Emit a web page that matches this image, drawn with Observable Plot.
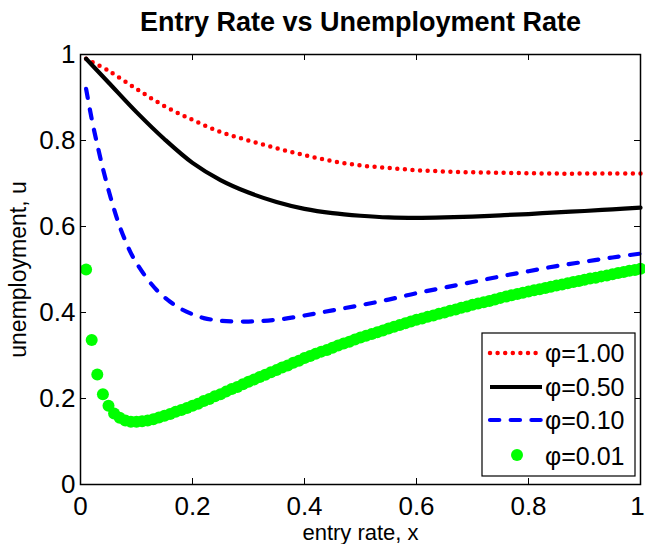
<!DOCTYPE html>
<html><head><meta charset="utf-8">
<script src="https://cdn.jsdelivr.net/npm/d3@7"></script>
<script src="https://cdn.jsdelivr.net/npm/@observablehq/plot@0.6"></script>
<style>
body{margin:0;background:#fff}
#chart{width:645px;height:544px}
</style>
</head><body><div id="chart"></div>
<script>
// ---- text ----
const titleText = "Entry Rate vs Unemployment Rate";
const xLabelText = "entry rate, x";
const yLabelText = "unemployment, u";
const seriesNames = ["φ=1.00", "φ=0.50", "φ=0.10", "φ=0.01"];
const xTicks = [0, 0.2, 0.4, 0.6, 0.8, 1];
const yTicks = [0, 0.2, 0.4, 0.6, 0.8, 1];

// ---- phi = 1.00 (red dotted) ----
const redX = [0.01,0.05,0.10,0.15,0.20,0.25,0.30,0.35,0.40,0.45,0.50,0.55,0.60,0.65,0.70,0.75,0.80,0.85,0.90,0.95,1.00];
const redU = [0.990,0.962,0.920,0.880,0.848,0.820,0.800,0.782,0.766,0.752,0.742,0.736,0.731,0.728,0.726,0.725,0.724,0.723,0.723,0.723,0.723];

// ---- phi = 0.50 (black solid) ----
const blackX = [0.01,0.05,0.10,0.15,0.20,0.25,0.30,0.35,0.40,0.45,0.50,0.55,0.60,0.65,0.70,0.75,0.80,0.85,0.90,0.95,1.00];
const blackU = [0.990,0.935,0.866,0.803,0.748,0.708,0.679,0.657,0.641,0.631,0.625,0.621,0.620,0.621,0.623,0.626,0.629,0.633,0.636,0.640,0.644];

// ---- phi = 0.10 (blue dashed) ----
const blueX = [0.01,0.02,0.03,0.04,0.05,0.06,0.07,0.08,0.09,0.10,0.12,0.14,0.16,0.18,0.20,0.22,0.25,0.30,0.35,0.40,0.45,0.50,0.55,0.60,0.65,0.70,0.75,0.80,0.85,0.90,0.95,1.00];
const blueU = [0.920,0.850,0.790,0.735,0.685,0.640,0.600,0.567,0.538,0.515,0.477,0.447,0.425,0.408,0.396,0.387,0.381,0.379,0.383,0.393,0.405,0.417,0.430,0.445,0.458,0.471,0.484,0.496,0.508,0.518,0.528,0.537];

// ---- phi = 0.01 (green markers) ----
const greenX = [0.01,0.02,0.03,0.04,0.05,0.06,0.07,0.08,0.09,0.10,
  0.11,0.12,0.13,0.14,0.15,0.16,0.17,0.18,0.19,0.20,
  0.21,0.22,0.23,0.24,0.25,0.26,0.27,0.28,0.29,0.30,
  0.31,0.32,0.33,0.34,0.35,0.36,0.37,0.38,0.39,0.40,
  0.41,0.42,0.43,0.44,0.45,0.46,0.47,0.48,0.49,0.50,
  0.51,0.52,0.53,0.54,0.55,0.56,0.57,0.58,0.59,0.60,
  0.61,0.62,0.63,0.64,0.65,0.66,0.67,0.68,0.69,0.70,
  0.71,0.72,0.73,0.74,0.75,0.76,0.77,0.78,0.79,0.80,
  0.81,0.82,0.83,0.84,0.85,0.86,0.87,0.88,0.89,0.90,
  0.91,0.92,0.93,0.94,0.95,0.96,0.97,0.98,0.99,1.00];
const greenU = [0.500,0.336,0.256,0.210,0.183,0.165,0.155,0.149,0.146,0.146,
  0.147,0.149,0.152,0.156,0.160,0.164,0.169,0.173,0.178,0.183,
  0.188,0.194,0.199,0.205,0.210,0.216,0.222,0.227,0.233,0.239,
  0.244,0.250,0.255,0.261,0.266,0.272,0.277,0.283,0.288,0.294,
  0.299,0.304,0.309,0.313,0.318,0.323,0.328,0.332,0.337,0.342,
  0.346,0.350,0.354,0.358,0.363,0.367,0.371,0.375,0.379,0.383,
  0.386,0.390,0.393,0.397,0.400,0.404,0.407,0.411,0.414,0.418,
  0.421,0.424,0.427,0.430,0.434,0.437,0.440,0.443,0.446,0.449,
  0.452,0.454,0.457,0.460,0.463,0.465,0.468,0.471,0.473,0.476,
  0.479,0.481,0.484,0.486,0.489,0.492,0.494,0.497,0.499,0.502];

const zip = (xs, us) => xs.map((x, i) => ({x, u: us[i]}));
const red = zip(redX, redU), black = zip(blackX, blackU), blue = zip(blueX, blueU), green = zip(greenX, greenU);

const W = 645, H = 544;
const mL = 80, mR = 5, mT = 54, mB = 60;
const fw = W - mL - mR, fh = H - mT - mB;
const tick = 6;
const fmt = d => `${d}`;
const FONT = "'Liberation Sans', Arial, Helvetica, sans-serif";
const xTicksInner = xTicks.slice(0, -1);
const xTickLast = xTicks.slice(-1);

const svg = Plot.plot({
  width: W, height: H,
  marginLeft: mL, marginRight: mR, marginTop: mT, marginBottom: mB,
  style: {fontFamily: FONT, fontSize: "26px", color: "#000", background: "#fff", overflow: "visible"},
  x: {domain: [0, 1], label: null},
  y: {domain: [0, 1], label: null},
  marks: [
    Plot.line(red, {x: "x", y: "u", curve: "catmull-rom", stroke: "#ff0000", strokeWidth: 4.5, strokeDasharray: "0 7.6", strokeLinecap: "round"}),
    Plot.line(black, {x: "x", y: "u", curve: "catmull-rom", stroke: "#000000", strokeWidth: 4.2}),
    Plot.line(blue, {x: "x", y: "u", curve: "catmull-rom", stroke: "#0000ff", strokeWidth: 4.2, strokeDasharray: "9.3 11.4", strokeLinecap: "round"}),
    Plot.dot(green, {x: "x", y: "u", r: 6, fill: "#00ff00", stroke: null}),
    // inward tick marks on all four sides
    Plot.ruleX(xTicks, {x: d => d, insetTop: fh - tick, stroke: "#000", strokeWidth: 1}),
    Plot.ruleX(xTicks, {x: d => d, insetBottom: fh - tick, stroke: "#000", strokeWidth: 1}),
    Plot.ruleY(yTicks, {y: d => d, insetRight: fw - tick, stroke: "#000", strokeWidth: 1}),
    Plot.ruleY(yTicks, {y: d => d, insetLeft: fw - tick, stroke: "#000", strokeWidth: 1}),
    Plot.frame({stroke: "#000", strokeWidth: 1.5}),
    Plot.axisX(xTicksInner, {anchor: "bottom", tickSize: 0, tickPadding: 12, tickFormat: fmt, label: null, fontSize: 26}),
    Plot.axisX(xTickLast, {anchor: "bottom", tickSize: 0, tickPadding: 12, tickFormat: fmt, label: null, fontSize: 26, dx: -3}),
    Plot.axisY(yTicks, {anchor: "left", tickSize: 0, tickPadding: 5, tickFormat: fmt, label: null, fontSize: 26}),
    Plot.text([titleText], {frameAnchor: "top", dy: -32, lineAnchor: "middle", textAnchor: "middle", fontSize: 27, fontWeight: "bold"}),
    Plot.text([xLabelText], {frameAnchor: "bottom", dy: 48, lineAnchor: "middle", textAnchor: "middle", fontSize: 22}),
    Plot.text([yLabelText], {frameAnchor: "left", dx: -62, rotate: -90, lineAnchor: "middle", textAnchor: "middle", fontSize: 23})
  ]
});
document.getElementById("chart").appendChild(svg);

// ---- legend (MATLAB style box, bottom right) ----
const lg = d3.select(svg).append("g").attr("font-family", FONT).attr("font-size", 25).attr("text-anchor", "start");
const bx = 482, by = 333, bw = 153, bh = 143;
lg.append("rect").attr("x", bx).attr("y", by).attr("width", bw).attr("height", bh)
  .attr("fill", "#fff").attr("stroke", "#000").attr("stroke-width", 1.2);
const rowsY = [353, 387, 420, 456];
const styles = [
  {stroke: "#ff0000", w: 4.5, dash: "0 7.6", cap: "round"},
  {stroke: "#000000", w: 4.2, dash: null, cap: "butt"},
  {stroke: "#0000ff", w: 4.2, dash: "9.3 11.4", cap: "round"},
  null
];
seriesNames.forEach((name, i) => {
  const y = rowsY[i];
  const s = styles[i];
  if (s) {
    lg.append("line").attr("x1", 490).attr("x2", 542).attr("y1", y).attr("y2", y)
      .attr("stroke", s.stroke).attr("stroke-width", s.w)
      .attr("stroke-dasharray", s.dash).attr("stroke-linecap", s.cap);
  } else {
    lg.append("circle").attr("cx", 517).attr("cy", y - 1).attr("r", 6).attr("fill", "#00ff00");
  }
  lg.append("text").attr("x", 545).attr("y", y).attr("dy", "0.35em").attr("text-anchor", "start").text(name);
});
</script>
</body></html>
